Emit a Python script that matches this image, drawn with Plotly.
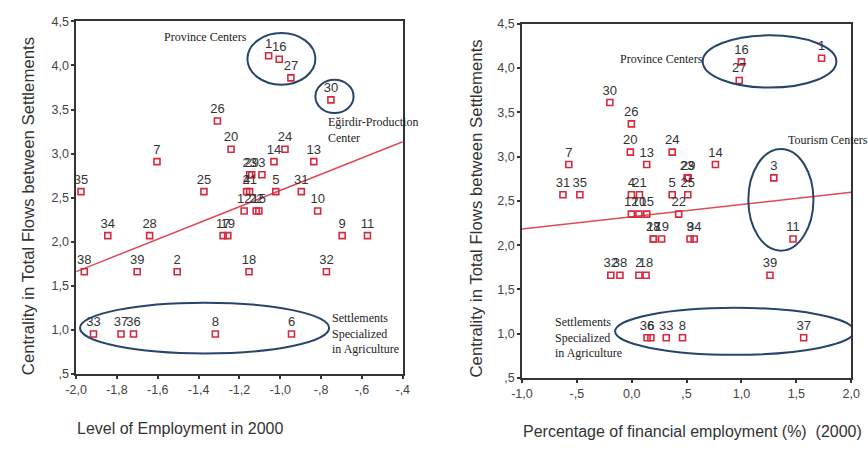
import numpy as np
import plotly.graph_objects as go

# ---------------- data ----------------
settlement_ids = [str(i) for i in range(1, 40)]

centrality = [4.11, 1.66, 2.76, 2.57, 2.57, 0.955, 2.91, 0.955, 2.07, 2.35,
              2.07, 2.35, 2.91, 2.91, 2.35, 4.07, 2.07, 1.66, 2.07, 3.05,
              2.57, 2.35, 2.76, 3.05, 2.57, 3.37, 3.86, 2.07, 2.76, 3.61,
              2.57, 1.66, 0.955, 2.07, 2.57, 0.955, 0.955, 1.66, 1.66]

employment_level = [-1.057, -1.505, -1.09, -1.165, -1.022, -0.945, -1.604, -1.318, -0.697, -0.817,
                    -0.573, -1.177, -0.836, -1.031, -1.105, -1.005, -1.28, -1.153, -1.257, -1.241,
                    -1.15, -1.118, -1.15, -0.977, -1.374, -1.308, -0.948, -1.64, -1.14, -0.752,
                    -0.897, -0.774, -1.915, -1.845, -1.976, -1.719, -1.78, -1.96, -1.701]

financial_pct = [1.73, 0.066, 1.295, -0.003, 0.369, 0.175, -0.573, 0.463, 0.532, 0.066,
                 1.47, -0.003, 0.137, 0.763, 0.137, 1.00, 0.20, 0.131, 0.273, -0.012,
                 0.071, 0.428, 0.505, 0.369, 0.511, -0.003, 0.98, 0.196, 0.515, -0.199,
                 -0.626, -0.19, 0.315, 0.57, -0.472, 0.14, 1.567, -0.107, 1.26]

left_xticks = [-2.0, -1.8, -1.6, -1.4, -1.2, -1.0, -0.8, -0.6, -0.4]
left_xticktext = ["-2,0", "-1,8", "-1,6", "-1,4", "-1,2", "-1,0", "-,8", "-,6", "-,4"]
right_xticks = [-1.0, -0.5, 0.0, 0.5, 1.0, 1.5, 2.0]
right_xticktext = ["-1,0", "-,5", "0,0", ",5", "1,0", "1,5", "2,0"]
yticks = [0.5, 1.0, 1.5, 2.0, 2.5, 3.0, 3.5, 4.0, 4.5]
yticktext = [",5", "1,0", "1,5", "2,0", "2,5", "3,0", "3,5", "4,0", "4,5"]

left_xtitle = "Level of Employment in 2000"
right_xtitle = "Percentage of financial employment (%)  (2000)"
ytitle = "Centrality in Total Flows between Settlements"

# ---------------- styling ----------------
SANS = "Liberation Sans, Arial, sans-serif"
SERIF = "Liberation Serif, Times New Roman, serif"
RED = "#d8283f"
LINE_RED = "#e04a52"
BLUE = "#27456b"
FRAME = "#333333"

left_range = [-2.0, -0.4]
right_range = [-1.0, 2.0]

fig = go.Figure()


def add_panel(xvals, xaxis, yaxis, xr):
    x = np.array(xvals)
    y = np.array(centrality)
    slope, intercept = np.polyfit(x, y, 1)
    xs = np.array(xr)
    fig.add_trace(go.Scatter(
        x=xs, y=intercept + slope * xs, mode="lines",
        line=dict(color=LINE_RED, width=1.5),
        xaxis=xaxis, yaxis=yaxis, hoverinfo="skip", showlegend=False))
    fig.add_trace(go.Scatter(
        x=xvals, y=centrality, mode="markers+text",
        text=settlement_ids, textposition="top center",
        textfont=dict(family=SANS, size=13, color="#333333"),
        marker=dict(symbol="square-open", size=6, color=RED,
                    line=dict(width=1.6, color=RED)),
        xaxis=xaxis, yaxis=yaxis, showlegend=False))


add_panel(employment_level, "x", "y", left_range)
add_panel(financial_pct, "x2", "y2", right_range)

axis_common = dict(
    showgrid=False, zeroline=False, showline=True, mirror=True,
    linecolor=FRAME, linewidth=1.5, ticks="outside", ticklen=3,
    tickwidth=2, tickcolor=FRAME,
    tickfont=dict(family=SANS, size=12.5, color="#444444"),
)

fig.update_layout(
    width=868, height=450, autosize=False,
    margin=dict(l=0, r=0, t=0, b=0),
    paper_bgcolor="white", plot_bgcolor="white",
    xaxis=dict(domain=[0.0768, 0.462], range=left_range, anchor="y",
               tickvals=left_xticks, ticktext=left_xticktext, **axis_common),
    yaxis=dict(domain=[0.158, 0.967], range=[0.5, 4.5], anchor="x",
               tickvals=yticks, ticktext=yticktext, **axis_common),
    xaxis2=dict(domain=[0.6025, 0.9908], range=right_range, anchor="y2",
                tickvals=right_xticks, ticktext=right_xticktext, **axis_common),
    yaxis2=dict(domain=[0.149, 0.9616], range=[0.5, 4.5], anchor="x2",
                tickvals=yticks, ticktext=yticktext, **axis_common),
)

# ellipses (group outlines)
ellipses = [
    ("x", "y", -1.161, -0.828, 3.782, 4.368),
    ("x", "y", -0.828, -0.641, 3.46, 3.837),
    ("x", "y", -1.981, -0.761, 0.735, 1.31),
    ("x2", "y2", 0.647, 1.865, 3.779, 4.369),
    ("x2", "y2", 1.063, 1.656, 1.938, 3.086),
    ("x2", "y2", -0.151, 2.028, 0.762, 1.293),
]
for xr_, yr_, x0, x1, y0, y1 in ellipses:
    fig.add_shape(type="circle", xref=xr_, yref=yr_, x0=x0, x1=x1, y0=y0, y1=y1,
                  line=dict(color=BLUE, width=2))

callouts = [
    ("x", "y", -1.577, 4.32, "Province Centers"),
    ("x", "y", -0.777, 3.266, "Eğirdir-Production<br>Center"),
    ("x", "y", -0.756, 0.962, "Settlements<br>Specialized<br>in Agriculture"),
    ("x2", "y2", -0.121, 4.107, "Province Centers"),
    ("x2", "y2", 1.404, 3.184, "Tourism Centers"),
    ("x2", "y2", -0.715, 0.962, "Settlements<br>Specialized<br>in Agriculture"),
]
for xr_, yr_, x, y, t in callouts:
    fig.add_annotation(xref=xr_, yref=yr_, x=x, y=y, text=t, showarrow=False,
                       xanchor="left", yanchor="middle", align="left",
                       font=dict(family=SERIF, size=12, color="#222222"))

# axis titles
title_font = dict(family=SANS, size=16, color="#333333")
fig.add_annotation(xref="paper", yref="paper", x=65 / 868, y=1 - 435 / 450,
                   text=left_xtitle, showarrow=False, xanchor="left",
                   yanchor="middle", font=title_font)
fig.add_annotation(xref="paper", yref="paper", x=522 / 868, y=1 - 438 / 450,
                   text=right_xtitle, showarrow=False, xanchor="left",
                   yanchor="middle", font=title_font)
fig.add_annotation(xref="paper", yref="paper", x=18 / 868, y=1 - 206 / 450,
                   text=ytitle, showarrow=False, textangle=-90,
                   xanchor="center", yanchor="middle",
                   font=dict(family=SANS, size=16.8, color="#333333"))
fig.add_annotation(xref="paper", yref="paper", x=476 / 868, y=1 - 208 / 450,
                   text=ytitle, showarrow=False, textangle=-90,
                   xanchor="center", yanchor="middle",
                   font=dict(family=SANS, size=16.8, color="#333333"))

fig.write_html("out.html")
